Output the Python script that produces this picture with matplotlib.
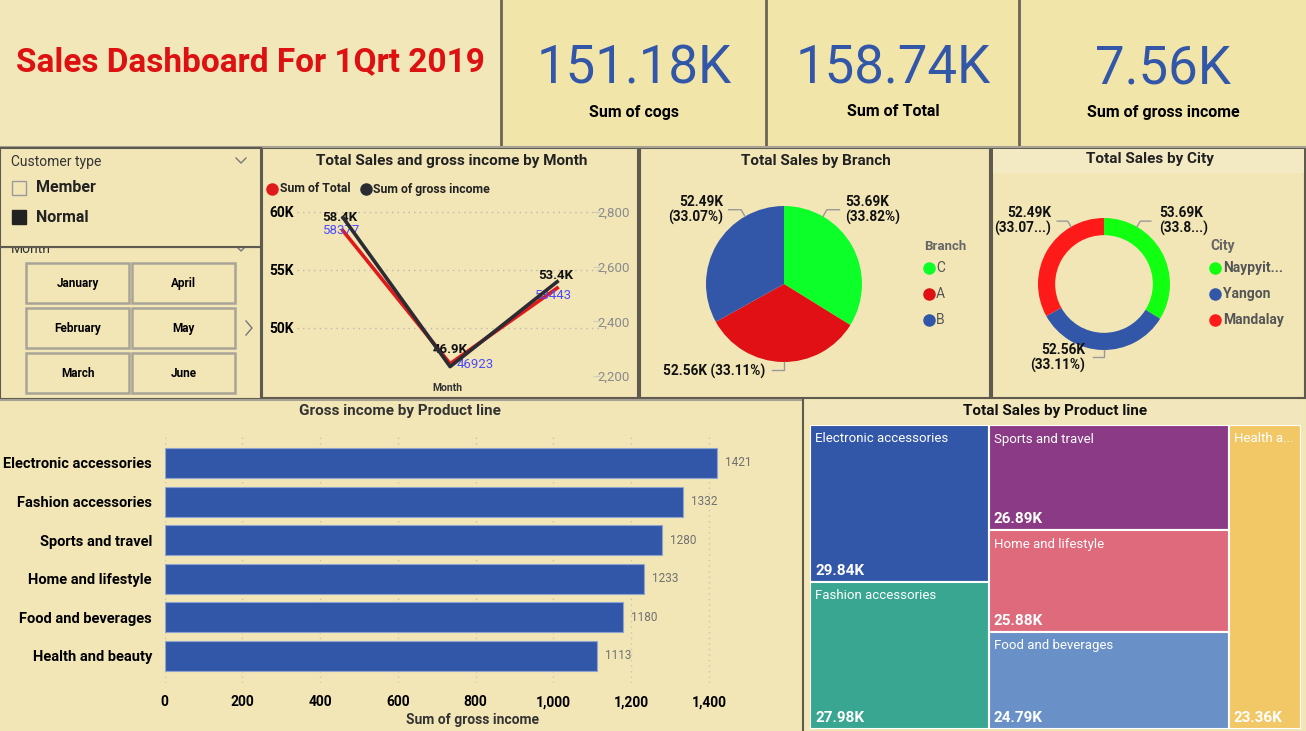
import matplotlib.pyplot as plt
from matplotlib.patches import Rectangle
import numpy as np

plt.rcParams['font.family'] = ['Roboto', 'DejaVu Sans']

# ---- data ----
kpi_values = ['151.18K', '158.74K', '7.56K']
kpi_labels = ['Sum of cogs', 'Sum of Total', 'Sum of gross income']

customer_types = ['Member', 'Normal']
month_buttons = [['January', 'April'], ['February', 'May'], ['March', 'June']]

months = ['January', 'February', 'March']
month_total = [58377, 46923, 53443]
month_gross = [2780, 2234, 2545]

branches = ['C', 'A', 'B']
branch_sales = [53.69, 52.56, 52.49]

cities = ['Naypyitaw', 'Yangon', 'Mandalay']
city_legend = ['Naypyit...', 'Yangon', 'Mandalay']
city_sales = [53.69, 52.56, 52.49]
city_lbl = ['53.69K\n(33.8...)', '52.56K\n(33.11%)', '52.49K\n(33.07...)']

products = ['Electronic accessories', 'Fashion accessories', 'Sports and travel',
            'Home and lifestyle', 'Food and beverages', 'Health and beauty']
gross_income = [1421, 1332, 1280, 1233, 1180, 1113]

tm_names = ['Electronic accessories', 'Fashion accessories', 'Sports and travel',
            'Home and lifestyle', 'Food and beverages', 'Health a...']
tm_sales = [29.84, 27.98, 26.89, 25.88, 24.79, 23.36]
tm_groups = [[0, 1], [2, 3, 4], [5]]
tm_colors = ['#3357A8', '#38A691', '#8B3A85', '#DE6A7C', '#6A91C7', '#F2C766']

# ---- canvas ----
W, H = 1306, 731
BG = '#F2E6B7'
fig = plt.figure(figsize=(W / 100, H / 100), dpi=100)
fig.patch.set_facecolor(BG)
bg = fig.add_axes([0, 0, 1, 1])
bg.set_xlim(0, W)
bg.set_ylim(H, 0)
bg.axis('off')


def ax_at(x0, y0, x1, y1):
    a = fig.add_axes([x0 / W, 1 - y1 / H, (x1 - x0) / W, (y1 - y0) / H])
    a.set_facecolor('none')
    return a


def txt(x, y, s, size, color='black', weight='normal', ha='left', va='center', **kw):
    return bg.text(x, y, s, fontsize=size, color=color, fontweight=weight, ha=ha, va=va, **kw)


def panel(x0, y0, x1, y1, fc=BG, ec='#5E5A50', lw=1.5, z=0):
    bg.add_patch(Rectangle((x0, y0), x1 - x0, y1 - y0, facecolor=fc, edgecolor=ec, lw=lw, zorder=z))


# header
panel(0, 0, 500, 146, fc='#F2E7B9', ec='none')
txt(250, 62, 'Sales Dashboard For 1Qrt 2019', 24, color='#DD1111', weight='bold', ha='center')
cards = [(502, 766), (767, 1019), (1020, 1306)]
for (x0, x1), v, l in zip(cards, kpi_values, kpi_labels):
    panel(x0, 0, x1, 146, fc='#F2E5AA', ec='none')
    cx = (x0 + x1) / 2
    txt(cx, 69, v, 38, color='#3357A8', ha='center')
    txt(cx, 112, l, 11.5, weight='bold', ha='center')
for x in [501, 766, 1019]:
    bg.plot([x, x], [0, 146], color='#6B6457', lw=2)
bg.plot([0, 1306], [146.5, 146.5], color='#A8A294', lw=1.5)

# slicers
panel(0, 247, 261, 399)
txt(11, 249, 'Month', 10, color='#333333', zorder=1)
bg.plot([236, 241, 246], [246, 251, 246], color='#777777', lw=1, zorder=1)
panel(0, 148, 261, 247, z=2)
txt(11, 162, 'Customer type', 10, color='#333333', zorder=3)
bg.plot([236, 241, 246], [158, 163, 158], color='#777777', lw=1, zorder=3)
for i, ct in enumerate(customer_types):
    yy = 188 + i * 29
    bg.add_patch(Rectangle((12, yy - 7), 14, 14, facecolor='#222222' if i else 'none',
                           edgecolor='#999999' if i == 0 else '#222222', lw=1, zorder=3))
    txt(36, yy, ct, 11.5, color='#222222', weight='bold', zorder=3)
for r, row in enumerate(month_buttons):
    for c, m in enumerate(row):
        x0 = 26 + c * 106
        y0 = 263 + r * 45
        bg.add_patch(Rectangle((x0, y0), 103, 40, facecolor=BG, edgecolor='#A8A498', lw=1.8))
        txt(x0 + 51.5, y0 + 20.5, m, 8.5, weight='bold', ha='center')
bg.plot([246, 252, 246], [321, 328, 335], color='#777777', lw=1)

# line chart
panel(262, 148, 638, 398)
txt(452, 161, 'Total Sales and gross income by Month', 11, weight='bold', ha='center', color='#222222')
bg.plot([272], [189], 'o', color='#E01A1A', ms=8)
txt(280, 189, 'Sum of Total', 8.8, weight='bold', color='#222222')
bg.plot([366], [189], 'o', color='#2B2B33', ms=8)
txt(373, 189, 'Sum of gross income', 8.8, weight='bold', color='#222222')
txt(447, 388, 'Month', 7.5, weight='bold', ha='center', color='#333333')

lx = np.arange(len(months))
ax = ax_at(297, 205, 600, 380)
ax.plot(lx, month_total, color='#E01A1A', lw=2.6, zorder=3)
ax.set_xlim(-0.43, 2.40)
ax.set_ylim(45517, 60603)
ax.set_yticks([50000, 55000, 60000])
ax.set_yticklabels(['50K', '55K', '60K'], fontweight='bold', fontsize=10)
ax.yaxis.grid(True, linestyle=(0, (1, 3)), color='#BDB8A8', lw=1)
ax.set_xticks([])
for s in ax.spines.values():
    s.set_visible(False)
for lab in ax.get_yticklabels():
    lab.set_horizontalalignment('left')
ax.tick_params(axis='y', length=0, pad=20)
ax2 = ax.twinx()
ax2.set_facecolor('none')
ax2.plot(lx, month_gross, color='#2B2B33', lw=2.6, zorder=4)
ax2.set_ylim(2185, 2826)
ax2.set_yticks([2200, 2400, 2600, 2800])
ax2.set_yticklabels([f'{v:,}' for v in [2200, 2400, 2600, 2800]], fontsize=9.5, color='#8A8A8A')
ax2.tick_params(axis='y', length=5, direction='in', color='#D0CCBE', pad=-2)
for s in ax2.spines.values():
    s.set_visible(False)
black_off = [(-3, 13), (0, 14), (-1, 13)]
blue_off = [(-1, 0), (25, -1), (-4, -7)]
for i, v in enumerate(month_total):
    ax.annotate(f'{v / 1000:.1f}K', (i, v), xytext=black_off[i], textcoords='offset pixels',
                ha='center', va='center', fontsize=9.5, fontweight='bold', color='#111111', zorder=6)
    ax.annotate(str(v), (i, v), xytext=blue_off[i], textcoords='offset pixels',
                ha='center', va='center', fontsize=9.5, color='#4B4BFF', zorder=6)


# pie / donut helper
def round_chart(box, vals, colors, lbls, angles, offs, width=None):
    a = ax_at(*box)
    wp = dict(linewidth=0)
    if width:
        wp['width'] = width
    a.pie(vals, colors=colors, startangle=90, counterclock=False, wedgeprops=wp)
    a.set_xlim(-1, 1)
    a.set_ylim(-1, 1)
    for lbl, ang, (tx, ty, ha) in zip(lbls, angles, offs):
        c, s = np.cos(np.radians(ang)), np.sin(np.radians(ang))
        p1 = (1.1 * c, 1.1 * s)
        sign = 1 if ha == 'left' else -1
        a.plot([c, p1[0], p1[0] + sign * 0.16], [s, p1[1], p1[1]], color='#999999', lw=1, clip_on=False)
        a.text(tx, ty, lbl, ha=ha, va='center', fontsize=9.8, fontweight='bold',
               color='#111111', linespacing=1.1)
    return a


panel(640, 148, 990, 398)
txt(816, 161, 'Total Sales by Branch', 11, weight='bold', ha='center', color='#222222')
tot_b = sum(branch_sales)
b_lbl = [f'{v:.2f}K\n({v / tot_b * 100:.2f}%)' for v in branch_sales]
b_lbl[1] = b_lbl[1].replace('\n', ' ')
round_chart((706, 206, 862, 362), branch_sales, ['#0DFF2A', '#E01015', '#3357A8'], b_lbl,
            [60, -90, 120], [(0.78, 0.95, 'left'), (-0.24, -1.12, 'right'), (-0.78, 0.95, 'right')])
txt(924, 247, 'Branch', 9.5, weight='bold', color='#666666')
for i, (b, col) in enumerate(zip(branches, ['#0DFF2A', '#E01015', '#3357A8'])):
    yy = 268 + i * 26
    bg.plot([929], [yy], 'o', color=col, ms=8)
    txt(936, yy, b, 10, color='#555555')

panel(992, 148, 1305, 398)
bg.add_patch(Rectangle((993, 149), 311, 24, facecolor='#F3EAC3', edgecolor='none'))
txt(1150, 159, 'Total Sales by City', 11, weight='bold', ha='center', color='#222222')
round_chart((1038, 218, 1170, 350), city_sales, ['#11FF11', '#3357A8', '#FF1A1A'], city_lbl,
            [60, -90, 120], [(0.83, 0.96, 'left'), (-0.29, -1.12, 'right'), (-0.80, 0.96, 'right')],
            width=0.26)
txt(1210, 246, 'City', 10, weight='bold', color='#666666')
for i, (cname, col) in enumerate(zip(city_legend, ['#11FF11', '#3357A8', '#FF1A1A'])):
    yy = 268 + i * 26
    bg.plot([1215], [yy], 'o', color=col, ms=8)
    txt(1223, yy, cname, 10, weight='bold', color='#555555')

# bar chart
bg.plot([0, 803], [400, 400], color='#A8A294', lw=1.5)
bg.plot([803, 803], [400, 731], color='#5E5A50', lw=1.5)
txt(400, 411, 'Gross income by Product line', 11, weight='bold', ha='center', color='#333333')
axb = ax_at(164.5, 435, 760, 683)
yb = np.arange(len(products))
axb.barh(yb, gross_income, height=0.78, color='#3357A8', edgecolor='#8FA3D0', lw=0.8, zorder=3)
axb.set_ylim(5.70, -0.725)
axb.set_xlim(0, 1531)
axb.set_yticks(yb)
axb.set_yticklabels(products, fontsize=10.5, fontweight='bold')
axb.set_xticks(range(0, 1401, 200))
axb.set_xticklabels([f'{v:,}' for v in range(0, 1401, 200)], fontsize=10, fontweight='bold')
axb.tick_params(length=0)
axb.tick_params(axis='y', pad=9)
axb.tick_params(axis='x', pad=9)
axb.xaxis.grid(True, linestyle=(0, (1, 3)), color='#C8C3B2', lw=1)
axb.set_axisbelow(True)
for s in axb.spines.values():
    s.set_visible(False)
for y, v in zip(yb, gross_income):
    axb.annotate(str(v), (v, y), xytext=(8, 0), textcoords='offset pixels', va='center',
                 fontsize=8.5, color='#707070')
txt(472, 720, 'Sum of gross income', 10, weight='bold', ha='center', color='#333333')

# treemap
bg.add_patch(Rectangle((805, 401), 500, 23, facecolor='#F2E6BC', edgecolor='none'))
txt(1055, 411, 'Total Sales by Product line', 11, weight='bold', ha='center', color='#111111')
axt = ax_at(810, 425, 1301, 729)
axt.set_xlim(0, 1)
axt.set_ylim(1, 0)
axt.axis('off')
tot = sum(tm_sales)
x = 0
for g in tm_groups:
    gsum = sum(tm_sales[i] for i in g)
    cw = gsum / tot
    y = 0
    for i in g:
        ch = tm_sales[i] / gsum
        axt.add_patch(Rectangle((x, y), cw, ch, facecolor=tm_colors[i], edgecolor='white', lw=1.5))
        axt.annotate(tm_names[i], (x, y), xytext=(5, -14), textcoords='offset pixels',
                     va='center', fontsize=9.5, color='white')
        axt.annotate(f'{tm_sales[i]:.2f}K', (x, y + ch), xytext=(5, 11), textcoords='offset pixels',
                     va='center', fontsize=11, fontweight='bold', color='white')
        y += ch
    x += cw

fig.savefig('out.png', dpi=100, facecolor=BG)
